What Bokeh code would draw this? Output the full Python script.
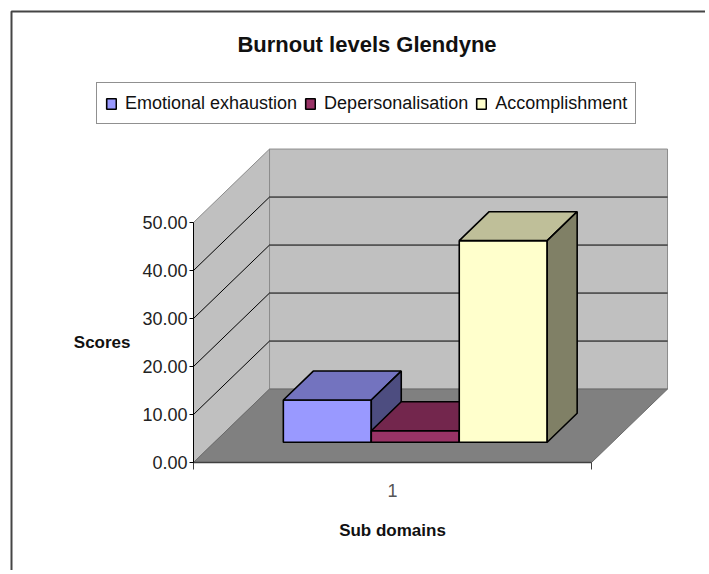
from bokeh.plotting import figure
from bokeh.models import (ColumnDataSource, Range1d, FixedTicker, LinearAxis, Legend,
                          LegendItem, Label, PrintfTickFormatter)
from bokeh.embed import file_html
from bokeh.resources import INLINE

# ---------------- data ----------------
chart_title = "Burnout levels Glendyne"
category_labels = ["1"]
series_names = ["Emotional exhaustion", "Depersonalisation", "Accomplishment"]
scores = [8.8, 2.4, 42.0]
y_ticks = [0, 10, 20, 30, 40, 50]
x_title = "Sub domains"
y_title = "Scores"

# ---------------- style ----------------
FONT = "Liberation Sans"
BORDER = "#454545"
front_colors = ["#9999FF", "#993366", "#FFFFCC"]
top_colors = ["#7373BF", "#73264D", "#BFBF99"]
side_colors = ["#4D4D80", "#4D1A33", "#808066"]

W, H = 705, 570
# pixel placement of the plot box: x 0..1 spans 193..591 px, y 0 at 462 px, 4.8 px per unit
X0_PX, X1_PX, Y0_PX, PX_PER_UNIT = 193, 591, 462, 4.8
PX_PER_X = X1_PX - X0_PX

# oblique projection of the 3D box (depth d in 0..1)
DEPTH_DX = 0.191
DEPTH_DY = 15.3
BAR_START = 0.173
BAR_W = 0.221
BAR_D0 = 0.276
BAR_D1 = 0.67
Y_TOP = y_ticks[-1]


def proj(x, y, d):
    return x + d * DEPTH_DX, y + d * DEPTH_DY


def poly(pts):
    xy = [proj(*pt) for pt in pts]
    return [a for a, _ in xy], [b for _, b in xy]


def px_x(px):
    return (px - X0_PX) / PX_PER_X


def px_y(py):
    return (Y0_PX - py) / PX_PER_UNIT


p = figure(width=W, height=H, output_backend="svg", toolbar_location=None, title=None,
           x_range=Range1d(px_x(0), px_x(W)), y_range=Range1d(px_y(H), px_y(0)),
           min_border_left=0, min_border_right=0, min_border_top=0, min_border_bottom=0,
           x_axis_location=None, y_axis_location=None)
p.xgrid.visible = False
p.ygrid.visible = False
p.outline_line_color = None
p.background_fill_color = "white"
p.border_fill_color = "white"

# chart-area border (top and left edges)
p.line(x=[px_x(11), px_x(11), px_x(W + 10)], y=[px_y(H + 10), px_y(11), px_y(11)],
       line_color=BORDER, line_width=2)

# walls and floor
back = poly([(0, 0, 1), (1, 0, 1), (1, Y_TOP, 1), (0, Y_TOP, 1)])
side = poly([(0, 0, 0), (0, 0, 1), (0, Y_TOP, 1), (0, Y_TOP, 0)])
floor = poly([(0, 0, 0), (1, 0, 0), (1, 0, 1), (0, 0, 1)])
p.patches(xs=[back[0], side[0]], ys=[back[1], side[1]], fill_color="#C0C0C0",
          line_color="#8C8C8C", line_width=1)
p.patch(x=floor[0], y=floor[1], fill_color="#808080", line_color="#6A6A6A", line_width=1)

# gridlines on the walls
gx, gy = [], []
for v in y_ticks[1:-1]:
    xs, ys = poly([(0, v, 0), (0, v, 1), (1, v, 1)])
    gx.append(xs)
    gy.append(ys)
p.multi_line(xs=gx, ys=gy, line_color="black", line_width=1)

# 3D bars, drawn left to right (front, top, side faces)
bx, by, bf = [], [], []
for i, v in enumerate(scores):
    x0 = BAR_START + i * BAR_W
    x1 = x0 + BAR_W
    faces = [
        ([(x0, 0, BAR_D0), (x1, 0, BAR_D0), (x1, v, BAR_D0), (x0, v, BAR_D0)], front_colors[i]),
        ([(x0, v, BAR_D0), (x1, v, BAR_D0), (x1, v, BAR_D1), (x0, v, BAR_D1)], top_colors[i]),
        ([(x1, 0, BAR_D0), (x1, 0, BAR_D1), (x1, v, BAR_D1), (x1, v, BAR_D0)], side_colors[i]),
    ]
    for pts, c in faces:
        xs, ys = poly(pts)
        bx.append(xs)
        by.append(ys)
        bf.append(c)
src = ColumnDataSource(dict(xs=bx, ys=by, fill=bf))
bars = p.patches(xs="xs", ys="ys", fill_color="fill", line_color="black", line_width=1.6,
                 source=src)

# value axis on the front-left edge
yaxis = LinearAxis(ticker=FixedTicker(ticks=y_ticks), formatter=PrintfTickFormatter(format="%.2f"),
                   bounds=(0, Y_TOP), fixed_location=0)
yaxis.axis_line_color = "black"
yaxis.major_tick_out = 4
yaxis.major_tick_in = 0
yaxis.minor_tick_line_color = None
yaxis.major_label_standoff = 2
yaxis.major_label_text_font = FONT
yaxis.major_label_text_font_size = "18px"
yaxis.major_label_text_color = "#222222"
p.add_layout(yaxis, "left")

# category axis on the front edge of the floor
n_cat = len(category_labels)
cat_pos = [(i + 0.5) / n_cat for i in range(n_cat)]
cat_edges = [i / n_cat for i in range(n_cat + 1)]
xaxis = LinearAxis(ticker=FixedTicker(ticks=cat_pos, minor_ticks=cat_edges), bounds=(0, 1),
                   fixed_location=0)
xaxis.major_label_overrides = {pos: lab for pos, lab in zip(cat_pos, category_labels)}
xaxis.axis_line_color = "#404040"
xaxis.axis_line_width = 1.5
xaxis.major_tick_line_color = None
xaxis.minor_tick_line_color = "#404040"
xaxis.minor_tick_out = 7
xaxis.minor_tick_in = 0
xaxis.major_label_standoff = 14
xaxis.major_label_text_font = FONT
xaxis.major_label_text_font_size = "18px"
xaxis.major_label_text_color = "#555555"
p.add_layout(xaxis, "below")

# axis titles
p.add_layout(Label(x=130, y=H - 342, x_units="screen", y_units="screen", text=y_title,
                   text_align="right", text_baseline="middle", text_font=FONT,
                   text_font_size="17px", text_font_style="bold", text_color="#111111"))
p.add_layout(Label(x=X0_PX + PX_PER_X * 0.5, y=H - 530, x_units="screen", y_units="screen",
                   text=x_title, text_align="center", text_baseline="middle", text_font=FONT,
                   text_font_size="17px", text_font_style="bold", text_color="#111111"))

# title
p.add_layout(Label(x=366.5, y=H - 44, x_units="screen", y_units="screen", text=chart_title,
                   text_align="center", text_baseline="middle", text_font=FONT,
                   text_font_size="22px", text_font_style="bold", text_color="#111111"))

# legend
items = [LegendItem(label=name, renderers=[bars], index=3 * i) for i, name in enumerate(series_names)]
legend = Legend(items=items, orientation="horizontal", location=(96, H - 124),
                label_text_font=FONT, label_text_font_size="18px", label_text_color="#111111",
                glyph_width=12, glyph_height=13, label_standoff=8, spacing=7, padding=8,
                label_height=24, border_line_color="#222222", border_line_width=1.5,
                background_fill_color="white", background_fill_alpha=1.0, margin=0)
p.add_layout(legend)

open("out.html", "w").write(file_html(p, INLINE))
